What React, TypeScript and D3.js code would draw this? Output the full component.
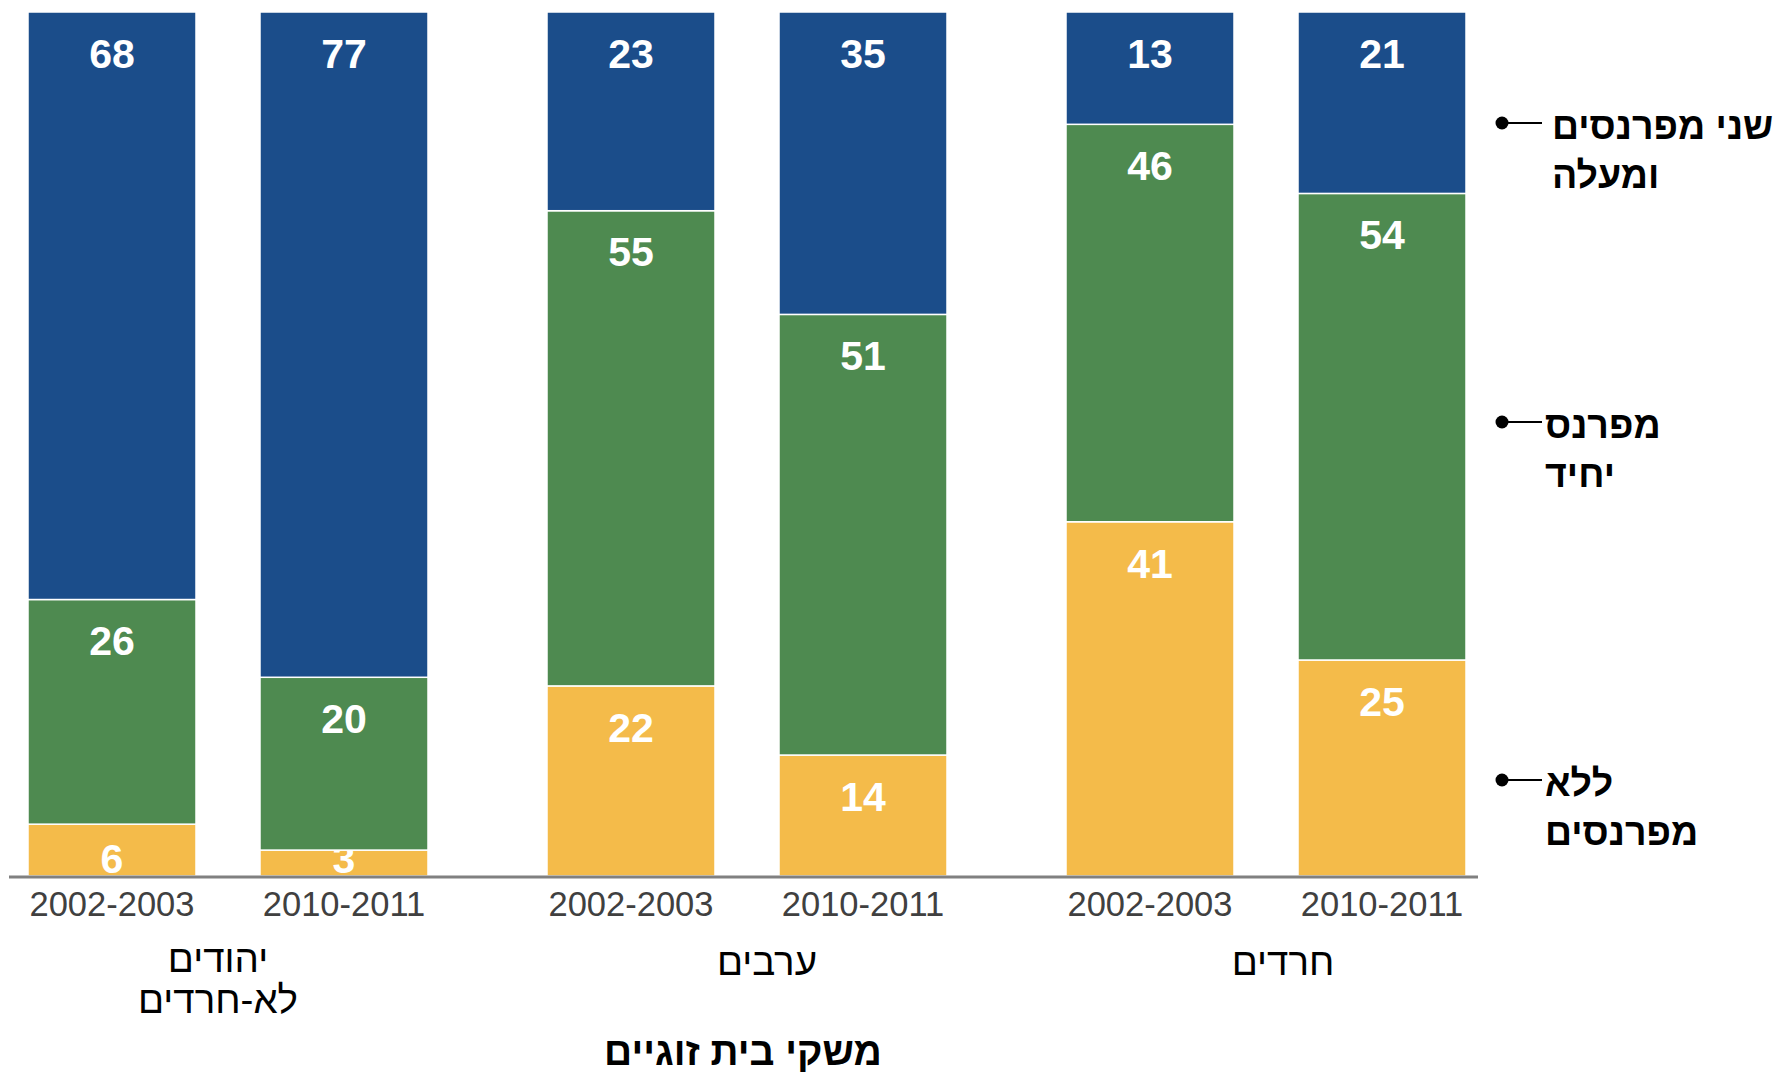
import React, { useEffect, useRef } from "react";
import * as d3 from "d3";

const groups = ["יהודים לא-חרדים", "ערבים", "חרדים"];
const groupLines = [["יהודים", "לא-חרדים"], ["ערבים"], ["חרדים"]];
const years = ["2002-2003", "2010-2011"];

// order: group x year
const noEarner = [6, 3, 22, 14, 41, 25];
const oneEarner = [26, 20, 55, 51, 46, 54];
const twoEarners = [68, 77, 23, 35, 13, 21];

const seriesKeys = ["none", "one", "two"];
const seriesColors = ["#f4bb4a", "#4e8a50", "#1b4d8a"];
const legendLines = [["שני מפרנסים", "ומעלה"], ["מפרנס", "יחיד"], ["ללא", "מפרנסים"]];
const axisTitle = "משקי בית זוגיים";

const W = 1779;
const H = 1073;
const FONT = "'Liberation Sans', Arial, sans-serif";

const App = () => {
  const ref = useRef(null);

  useEffect(() => {
    const svg = d3.select(ref.current);
    svg.selectAll("*").remove();

    const rows = [];
    groups.forEach((g, gi) =>
      years.forEach((yr, yi) => {
        const i = gi * years.length + yi;
        rows.push({ group: g, year: yr, none: noEarner[i], one: oneEarner[i], two: twoEarners[i] });
      })
    );

    const x0 = d3.scaleBand().domain(groups).range([28, 1466]).paddingInner(0.2293);
    const x1 = d3.scaleBand().domain(years).range([0, x0.bandwidth()]).paddingInner(0.2759);
    const y = d3.scaleLinear().domain([0, 100]).range([876, 12]);

    const stack = d3.stack().keys(seriesKeys)(rows);

    const layers = svg
      .selectAll("g.layer")
      .data(stack)
      .enter()
      .append("g")
      .attr("class", "layer")
      .attr("fill", (d, i) => seriesColors[i]);

    layers
      .selectAll("rect")
      .data((d) => d)
      .enter()
      .append("rect")
      .attr("x", (d) => x0(d.data.group) + x1(d.data.year))
      .attr("width", x1.bandwidth())
      .attr("y", (d) => y(d[1]))
      .attr("height", (d) => y(d[0]) - y(d[1]))
      .attr("stroke", "#ffffff")
      .attr("stroke-width", 1.5);

    // value labels, placed near the top of each segment
    layers
      .selectAll("text")
      .data((d) => d)
      .enter()
      .append("text")
      .attr("x", (d) => x0(d.data.group) + x1(d.data.year) + x1.bandwidth() / 2)
      .attr("y", (d) => Math.min(y(d[1]) + 41, y(d[0]) - 18))
      .attr("dy", "0.36em")
      .attr("text-anchor", "middle")
      .attr("fill", "#ffffff")
      .style("font-family", FONT)
      .style("font-weight", "bold")
      .style("font-size", "41px")
      .text((d) => d[1] - d[0]);

    // baseline
    svg
      .append("line")
      .attr("x1", 9)
      .attr("x2", 1478)
      .attr("y1", y(0) + 1)
      .attr("y2", y(0) + 1)
      .attr("stroke", "#808080")
      .attr("stroke-width", 3);

    // year ticks
    svg
      .selectAll("text.year")
      .data(rows)
      .enter()
      .append("text")
      .attr("class", "year")
      .attr("x", (d) => x0(d.group) + x1(d.year) + x1.bandwidth() / 2)
      .attr("y", 916)
      .attr("text-anchor", "middle")
      .attr("fill", "#404040")
      .style("font-family", FONT)
      .style("font-size", "34.5px")
      .text((d) => d.year);

    // group labels
    const groupOffset = [-10, 20, 17];
    groups.forEach((g, gi) => {
      const cx = x0(g) + x0.bandwidth() / 2 + groupOffset[gi];
      const lines = groupLines[gi];
      lines.forEach((ln, li) => {
        svg
          .append("text")
          .attr("x", cx)
          .attr("y", (lines.length > 1 ? 972 : 975) + li * 41)
          .attr("text-anchor", "middle")
          .attr("fill", "#000000")
          .style("font-family", FONT)
          .style("font-size", "38.5px")
          .text(ln);
      });
    });

    // axis title
    svg
      .append("text")
      .attr("x", 743)
      .attr("y", 1065)
      .attr("text-anchor", "middle")
      .attr("fill", "#000000")
      .style("font-family", FONT)
      .style("font-weight", "bold")
      .style("font-size", "39px")
      .text(axisTitle);

    // legend
    const legendY = [123, 422, 780];
    const legendTextX = [1552, 1545, 1545];
    legendLines.forEach((lines, i) => {
      const g = svg.append("g");
      g.append("circle").attr("cx", 1502).attr("cy", legendY[i]).attr("r", 6.5).attr("fill", "#000");
      g.append("line")
        .attr("x1", 1502)
        .attr("x2", 1542)
        .attr("y1", legendY[i])
        .attr("y2", legendY[i])
        .attr("stroke", "#000")
        .attr("stroke-width", 2);
      lines.forEach((ln, li) => {
        g.append("text")
          .attr("x", legendTextX[i])
          .attr("y", legendY[i] + 16 + li * 49)
          .attr("text-anchor", "start")
          .attr("fill", "#000")
          .style("font-family", FONT)
          .style("font-weight", "bold")
          .style("font-size", "37.5px")
          .text(ln);
      });
    });
  }, []);

  return (
    <svg
      ref={ref}
      width={W}
      height={H}
      style={{ position: "absolute", left: 0, top: 0, background: "#ffffff" }}
    ></svg>
  );
};

export default App;
